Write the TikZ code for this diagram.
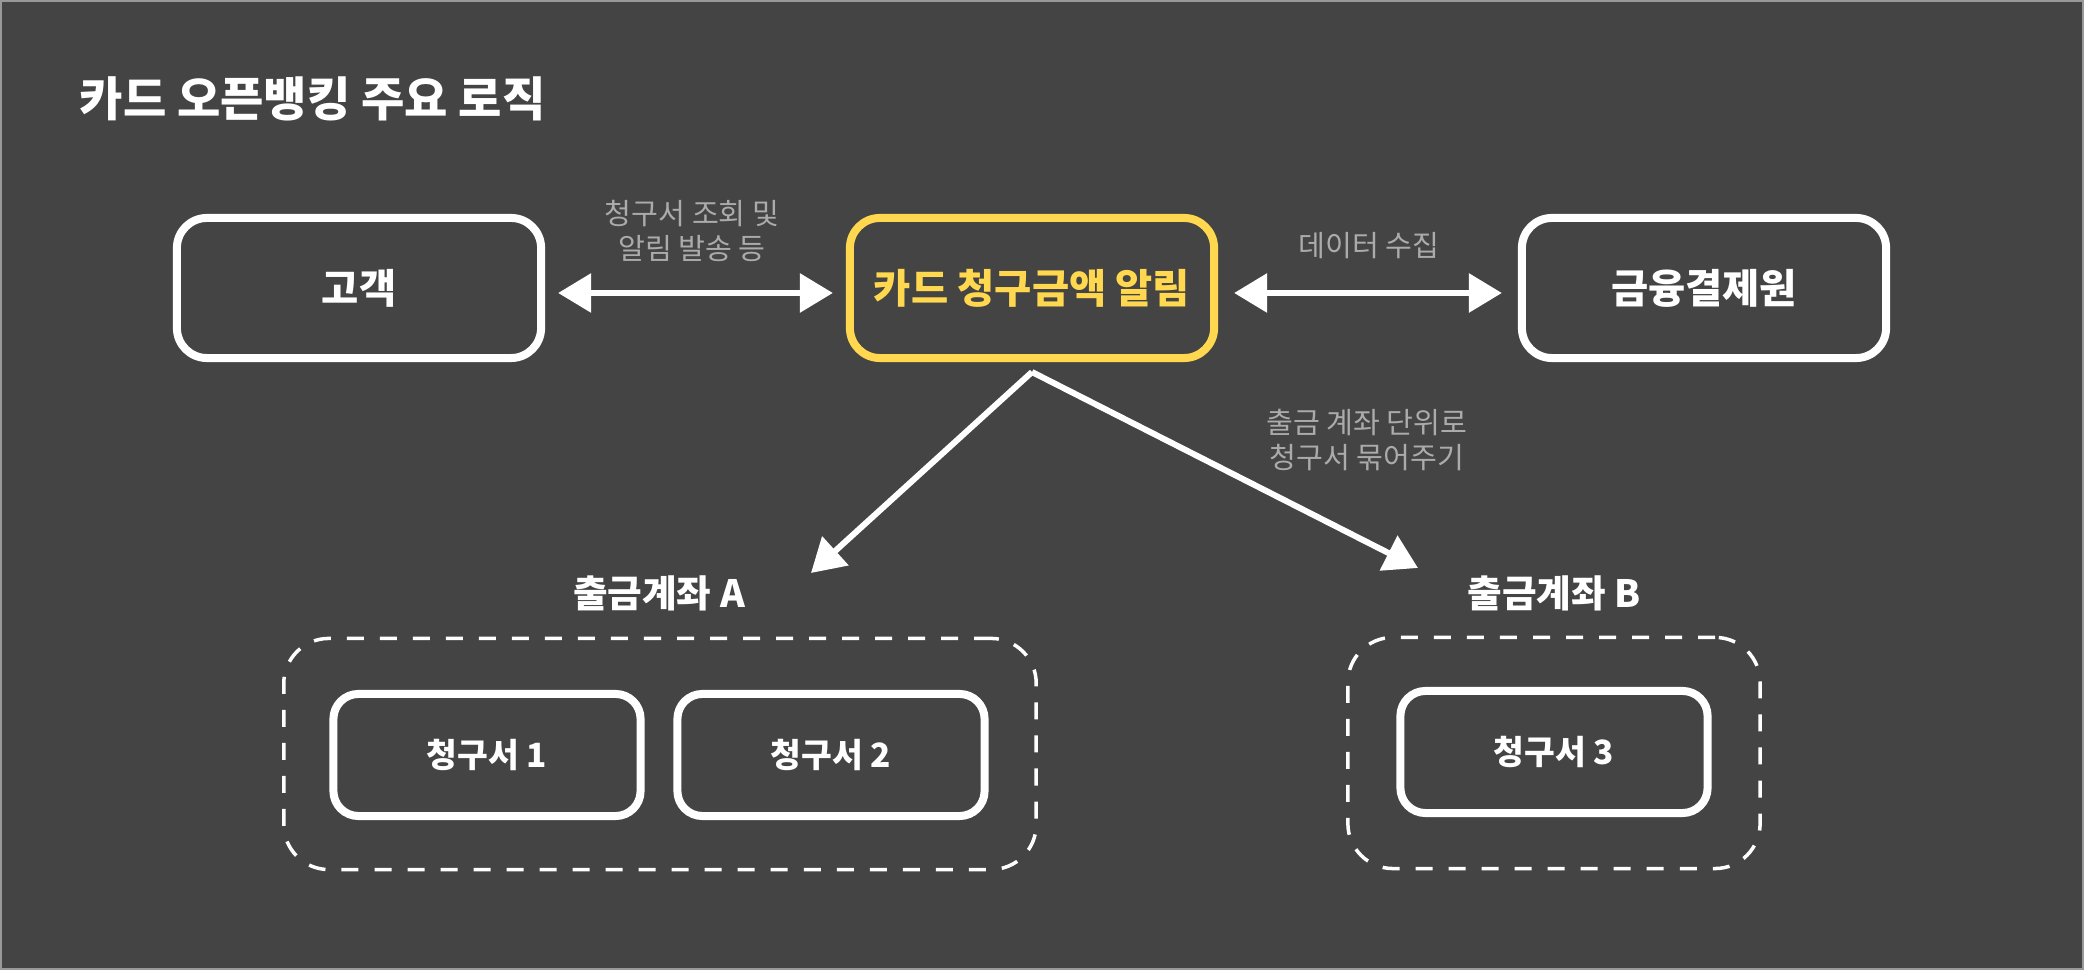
\documentclass[tikz,border=0pt]{standalone}
\usepackage{fontspec}
\setmainfont{Noto Sans CJK KR}
\usetikzlibrary{arrows.meta}
\definecolor{bgdark}{HTML}{444444}
\definecolor{cardyellow}{HTML}{FFD84F}
\definecolor{notegray}{HTML}{ABABAB}

\begin{document}
\begin{tikzpicture}[
    x=0.01cm, y=0.01cm,
    box/.style={draw=white, line width=0.08cm, rounded corners=0.3cm, minimum width=3.64cm, minimum height=1.40cm, text=white, font=\fontsize{11.5}{14}\selectfont\bfseries},
    bill/.style={box, minimum width=3.07cm, minimum height=1.22cm, rounded corners=0.25cm, font=\fontsize{9.5}{12}\selectfont\bfseries},
    group/.style={draw=white, line width=0.035cm, dash pattern=on 0.17cm off 0.16cm, rounded corners=0.45cm, minimum height=2.31cm},
    head/.style={text=white, font=\fontsize{10.7}{13}\selectfont\bfseries},
    note/.style={text=notegray, align=center, font=\fontsize{8.3}{10.2}\selectfont},
    link/.style={draw=white, line width=0.06cm},
    >={Triangle[length=0.33cm, width=0.38cm]}
]
    % 배경
    \fill[bgdark] (0,0) rectangle (2084,970);
    \draw[draw=gray!80, line width=0.015cm] (1,1) rectangle (2083,969);
    \useasboundingbox (0,0) rectangle (2084,970);

    % 제목
    \node[anchor=west, inner sep=0, text=white, font=\fontsize{13.4}{16}\selectfont\bfseries] (title) at (79,871) {카드 오픈뱅킹 주요 로직};

    % 윗줄 박스 (3개)
    \node[box] (cust) at (359,682) {고객};
    \node[box, draw=cardyellow, text=cardyellow] (card) at (1032,682) {카드 청구금액 알림};
    \node[box] (kftc) at (1704,682) {금융결제원};

    % --- 양방향 화살표 ---
    \draw[link, <->, shorten <=0.13cm, shorten >=0.13cm] ([yshift=-0.05cm]cust.east) -- ([yshift=-0.05cm]card.west);
    \draw[link, <->, shorten <=0.16cm, shorten >=0.16cm] ([yshift=-0.05cm]card.east) -- ([yshift=-0.05cm]kftc.west);
    \node[note] (noteL) at (692,739) {청구서 조회 및\\알림 발송 등};
    \node[note] (noteR) at (1369,724) {데이터 수집};

    % --- 출금계좌로 나누는 화살표 ---
    \coordinate (tipA) at (811,397);
    \coordinate (tipB) at (1418,402);
    \draw[link, ->] ([yshift=-0.1cm]card.south) -- (tipA);
    \draw[link, ->] ([yshift=-0.1cm]card.south) -- (tipB);
    \node[note] (noteD) at (1367,530) {출금 계좌 단위로\\청구서 묶어주기};

    % 출금계좌 A
    \node[head] (acctA) at (659,377) {출금계좌 A};
    \node[group, minimum width=7.52cm] (grpA) at (660,216) {};
    \node[bill] (bill1) at (487,215) {청구서 1};
    \node[bill] (bill2) at (831,215) {청구서 2};

    % 출금계좌 B
    \node[head] (acctB) at (1554,377) {출금계좌 B};
    \node[group, minimum width=4.12cm] (grpB) at (1554,217) {};
    \node[bill] (bill3) at (1554,218) {청구서 3};

\end{tikzpicture}
\end{document}
